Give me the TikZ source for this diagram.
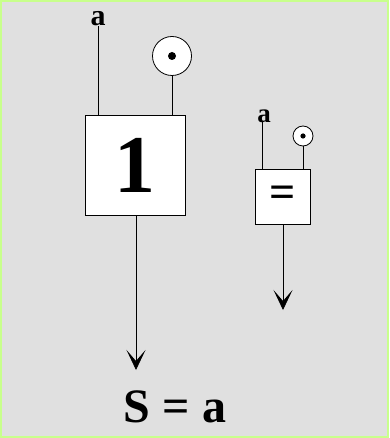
\documentclass[tikz,border=0pt]{standalone}
\usepackage{fontspec}
\setmainfont{Liberation Serif}
\usepackage{tikz}
\usetikzlibrary{arrows.meta, positioning}
\definecolor{panelgray}{HTML}{E0E0E0}
\definecolor{panelgreen}{HTML}{C8FF8C}
\tikzset{
    x=1pt, y=1pt,
    every node/.style={inner sep=0pt, outer sep=0pt},
    gate/.style={ % Sets the properties for each box
        draw, fill=white, line width=0.8pt
    },
    tokenplace/.style={ % Circle holding a token
        draw, fill=white, circle, line width=0.8pt
    },
    wire/.style={line width=0.8pt},
    outwire/.style={ % Output wire with open arrow head
        line width=0.8pt,
        -{Stealth[length=20pt, width=19pt, inset=11pt]}
    },
    inlabel/.style={font=\bfseries\fontsize{30}{30}\selectfont}
}
\begin{document}
\begin{tikzpicture}
        % hintergrund
        \useasboundingbox (0,0) rectangle (389,-438);
        \draw[line width=2pt, draw=panelgreen, fill=panelgray]
                (1,-1) rectangle (388,-437);
        % grosses kaestchen
        \node[gate, minimum size=100pt]            (one)   at (135,-165)
                {\bfseries\fontsize{82}{82}\selectfont 1};
        \node[inlabel]                             (a1)    at (98,-19)  {a};
        \node[tokenplace, minimum size=39pt]       (p1)    at (172,-56) {};
        \coordinate                                (s1)    at (136,-370);
        % kleines kaestchen
        \node[gate, minimum size=55pt]             (eq)    at (282.5,-196.5)
                {\bfseries\fontsize{46}{46}\selectfont =};
        \node[inlabel, font=\bfseries\fontsize{27}{27}\selectfont]
                                                   (a2)    at (264,-116) {a};
        \node[tokenplace, minimum size=20pt]       (p2)    at (303,-136) {};
        \coordinate                                (s2)    at (283,-310);
        % ergebnis
        \node[font=\bfseries\fontsize{48}{48}\selectfont]
                                                   (res)   at (175,-407) {S = a};

        \fill (p1) circle (4pt);
        \fill (p2) circle (2.6pt);

        \draw[wire]
                (a1.south -| 98,0)  -- (one.north -| 98,0)
                (p1.south)          -- (one.north -| p1.south)
                (a2.south -| 262,0) -- (eq.north -| 262,0)
                (p2.south)          -- (eq.north -| p2.south);
        \draw[outwire] (one.south -| s1) -- (s1);
        \draw[outwire] (eq.south -| s2)  -- (s2);
\end{tikzpicture}
\end{document}
